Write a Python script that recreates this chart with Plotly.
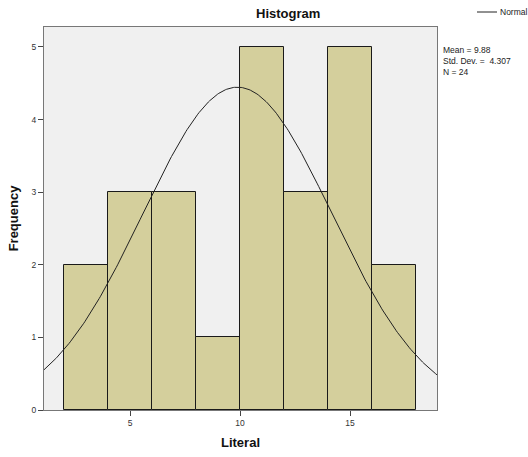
import numpy as np
import plotly.graph_objects as go

bin_centers = [3, 5, 7, 9, 11, 13, 15, 17]
counts = [2, 3, 3, 1, 5, 3, 5, 2]
bin_width = 2
mean_val = 9.88
std_val = 4.307
n_val = 24
x_range = [1.09, 18.95]
y_range = [0, 5.275]

xs = np.linspace(x_range[0], x_range[1], 300)
ys = n_val * bin_width * np.exp(-0.5 * ((xs - mean_val) / std_val) ** 2) / (std_val * np.sqrt(2 * np.pi))

fig = go.Figure()
fig.add_trace(go.Bar(
    x=bin_centers, y=counts, width=[bin_width] * len(counts),
    marker=dict(color="#D4CF9C", line=dict(color="#1a1a1a", width=1)),
    showlegend=False, hoverinfo="x+y"
))
fig.add_trace(go.Scatter(
    x=xs, y=ys, mode="lines", name="Normal",
    line=dict(color="#222222", width=1), showlegend=False
))

L, R, T, B = 44, 91, 27, 47
W, H = 528, 457
pw, ph = W - L - R, H - T - B

def px_x(p):
    return (p - L) / pw

def px_y(p):
    return 1 - (p - T) / ph

fig.update_layout(
    width=W, height=H,
    margin=dict(l=L, r=R, t=T, b=B, pad=0),
    plot_bgcolor="#F0F0F0", paper_bgcolor="white",
    bargap=0,
    showlegend=False,
    font=dict(family="Liberation Sans, Arial, sans-serif", color="#222"),
    xaxis=dict(range=x_range, tickvals=[5, 10, 15], ticks="outside", ticklen=5,
               tickcolor="#444", tickfont=dict(size=8.5, color="#333"),
               showgrid=False, zeroline=False, showline=True, linecolor="#777",
               linewidth=1, mirror=True, automargin=False,
               title=dict(text="<b>Literal</b>", font=dict(size=13, color="#111"), standoff=10)),
    yaxis=dict(range=y_range, tickvals=[0, 1, 2, 3, 4, 5], ticks="outside", ticklen=5,
               tickcolor="#444", tickfont=dict(size=8.5, color="#333"),
               showgrid=False, zeroline=False, showline=True, linecolor="#777",
               linewidth=1, mirror=True, automargin=False,
               title=dict(text="<b>Frequency</b>", font=dict(size=13, color="#111"), standoff=10)),
    shapes=[
        dict(type="line", xref="paper", yref="paper",
             x0=px_x(477), x1=px_x(497), y0=px_y(12), y1=px_y(12),
             line=dict(color="#222", width=1)),
    ],
    annotations=[
        dict(text="<b>Histogram</b>", x=px_x(288), y=px_y(14),
             xref="paper", yref="paper", showarrow=False,
             font=dict(size=13, color="#111"), xanchor="center", yanchor="middle"),
        dict(text="Normal", x=px_x(498), y=px_y(12), xref="paper", yref="paper",
             showarrow=False, xanchor="left", yanchor="middle",
             font=dict(size=8.5, color="#222")),
        dict(text=f"Mean = {mean_val}<br>Std. Dev. =  {std_val}<br>N = {n_val}",
             x=px_x(441), y=px_y(43), xref="paper", yref="paper",
             showarrow=False, align="left", xanchor="left", yanchor="top",
             font=dict(size=8.5, color="#222")),
    ],
)

fig.write_html("out.html")
